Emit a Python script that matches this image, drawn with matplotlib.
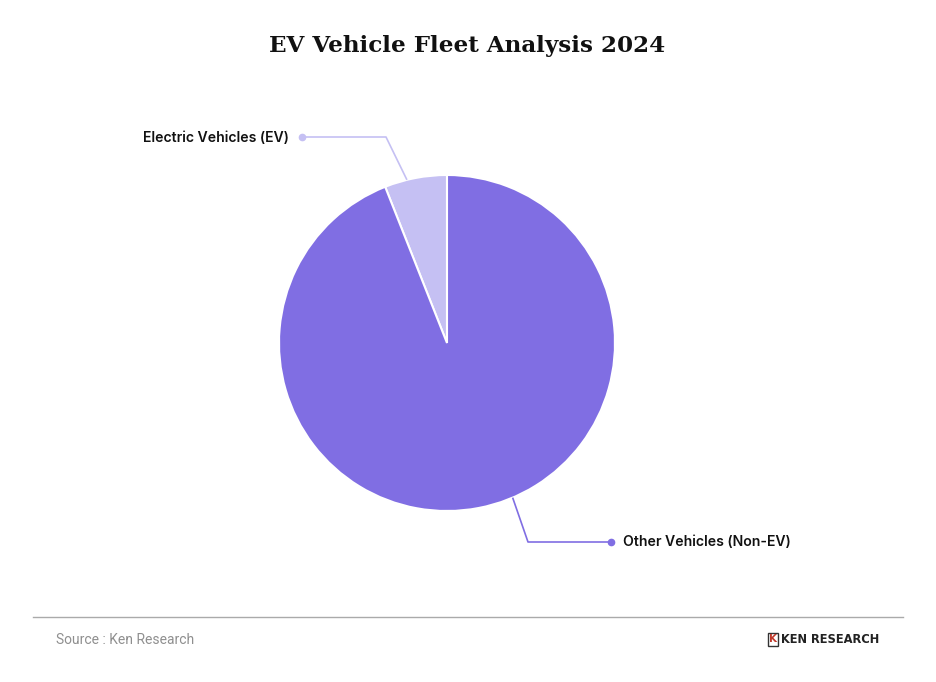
import numpy as np
import matplotlib.pyplot as plt
from matplotlib.patches import FancyBboxPatch

# data
labels = ["Electric Vehicles (EV)", "Other Vehicles (Non-EV)"]
shares = [6, 94]
colors = ["#C5C0F3", "#806EE3"]

W, H = 936, 682
fig = plt.figure(figsize=(W / 100, H / 100), dpi=100)
ax = fig.add_axes([0, 0, 1, 1])

cx, cy, r = 447, H - 343, 168

wedges, _ = ax.pie(
    shares,
    colors=colors,
    startangle=90,
    counterclock=True,
    center=(cx, cy),
    radius=r,
    wedgeprops=dict(edgecolor="white", linewidth=1.5),
    frame=True,
)
ax.set_xlim(0, W)
ax.set_ylim(0, H)
ax.set_aspect("equal")
ax.axis("off")

# leader lines: (angle on rim, elbow, end of horizontal, text side)
leaders = [
    (103.8, (386, H - 137), (302, H - 137), "right"),
    (293.0, (528, H - 542), (611, H - 542), "left"),
]
for (ang, elbow, end, side), lab, col in zip(leaders, labels, colors):
    a = np.deg2rad(ang)
    p0 = (cx + r * np.cos(a), cy + r * np.sin(a))
    ax.plot([p0[0], elbow[0], end[0]], [p0[1], elbow[1], end[1]],
            color=col, lw=1.2, solid_capstyle="butt")
    ax.plot(end[0], end[1], "o", color=col, ms=4.5)
    if side == "right":
        ax.text(end[0] - 13, end[1] - 1, lab, ha="right", va="center",
                fontsize=10.1, family="Inter", fontweight="semibold", color="#111111")
    else:
        ax.text(end[0] + 12, end[1], lab, ha="left", va="center",
                fontsize=10.1, family="Inter", fontweight="semibold", color="#111111")

fig.text(467 / W, 1 - 46 / H, "EV Vehicle Fleet Analysis 2024", ha="center", va="center",
         fontsize=16.6, family="DejaVu Serif", fontweight="bold", color="#111111")

# footer
ax.plot([33, 903], [H - 617, H - 617], color="#AAAAAA", lw=1)
ax.text(56, H - 640, "Source : Ken Research", ha="left", va="center",
        fontsize=10, family="Roboto", fontweight="normal", color="#8F8F8F")
ax.add_patch(FancyBboxPatch((768, H - 646), 10, 13, boxstyle="square,pad=0",
                            facecolor="white", edgecolor="#333333", lw=1))
ax.text(773, H - 639.5, "K", ha="center", va="center", fontsize=7.5,
        fontweight="bold", color="#C0392B")
ax.text(781, H - 639.5, "KEN RESEARCH", ha="left", va="center", fontsize=8.3,
        family="DejaVu Sans", fontweight="bold", color="#222222")

fig.savefig("out.png", dpi=100, facecolor="white")
